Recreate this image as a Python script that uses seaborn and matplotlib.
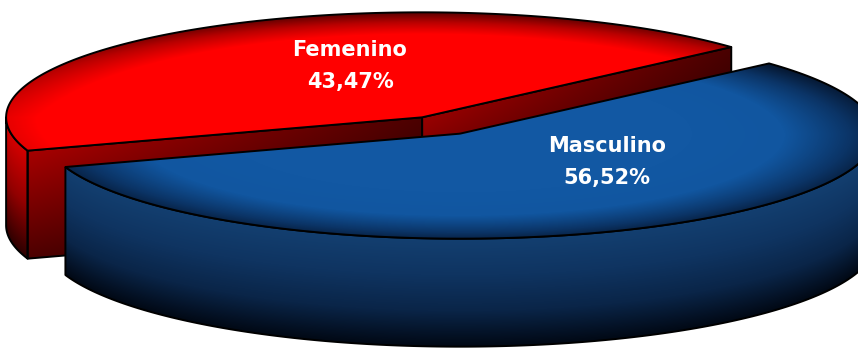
import numpy as np
import matplotlib
matplotlib.use("Agg")
import matplotlib.pyplot as plt
from matplotlib.patches import Polygon
from matplotlib.colors import to_rgb
import seaborn as sns

# ---- data -------------------------------------------------------------
categories = ["Femenino", "Masculino"]
shares = [43.47, 56.52]
share_labels = ["43,47%", "56,52%"]

# ---- layout of the 3-D pie (pixel space) ------------------------------
W, H = 858, 352
CX, CY = 441.0, 125.5      # centre of the un-exploded pie top
RX, RY = 416.0, 105.0      # ellipse radii of the top face
DEPTH = 108.0              # thickness of the disc
EXPLODE = 37.5             # radial offset of each slice
START = 42.0               # angle where the first slice begins (ccw)
LABEL_POS = [(350, 66), (607, 162)]

sns.set_theme(style="white")
plt.rcParams["font.family"] = ["DejaVu Sans"]

fig = plt.figure(figsize=(W / 100, H / 100), dpi=100)
ax = fig.add_axes([0, 0, 1, 1])
ax.set_facecolor("white")

xx, yy = np.meshgrid(np.arange(W) + 0.5, np.arange(H) + 0.5)
K = RY / RX

spans = np.array(shares) / np.sum(shares) * 360.0
starts = START + np.concatenate([[0], np.cumsum(spans)[:-1]])
ends = starts + spans
mids = starts + spans / 2
centers = [(CX + EXPLODE * np.cos(np.radians(m)),
            CY - EXPLODE * K * np.sin(np.radians(m))) for m in mids]


def arc(cx, cy, a, b, dz=0.0, n=240):
    t = np.radians(np.linspace(a, b, n))
    return np.column_stack([cx + RX * np.cos(t), cy - RY * np.sin(t) + dz])


def rim_point(cx, cy, a, dz=0.0):
    t = np.radians(a)
    return np.array([cx + RX * np.cos(t), cy - RY * np.sin(t) + dz])


def paint(poly, rgb, z, lw=1.4):
    clip = Polygon(poly, closed=True, facecolor="none", edgecolor="none",
                   transform=ax.transData)
    ax.add_patch(clip)
    im = ax.imshow(rgb, extent=(0, W, H, 0), zorder=z,
                   interpolation="bilinear", aspect="auto")
    im.set_clip_path(clip)
    ax.add_patch(Polygon(poly, closed=True, fill=False, edgecolor="black",
                         lw=lw, zorder=z + 0.5, joinstyle="round"))


def shade(cmap, v):
    return cmap(np.clip(v, 0, 1))[..., :3]


def top_image(cx, cy, cmap, r0, power, back=0.45):
    # darker towards the rim, strongest along the far (upper) edge
    u = (xx - cx) / RX
    v = (yy - cy) / RY
    r = np.hypot(u, v)
    s = np.clip((r - r0) / (1 - r0), 0, 1) ** power
    w = (1 - back) + back * np.clip(-v / np.maximum(r, 1e-6), 0, 1)
    return shade(cmap, 1 - s * w)


def side_image(cx, cy, cmap):
    u = np.clip((xx - cx) / RX, -1, 1)
    ytop = cy + RY * np.sqrt(1 - u ** 2)
    f = (yy - ytop) / DEPTH
    return shade(cmap, f)


def radial_image(cx, cy, a, c_apex, c_rim, dark=0.55):
    rx, ry = rim_point(cx, cy, a)
    rho = np.clip((xx - cx) / (rx - cx), 0, 1)
    ytop = cy + (xx - cx) * (ry - cy) / (rx - cx)
    f = np.clip((yy - ytop) / DEPTH, 0, 1)
    ca, cr = np.array(to_rgb(c_apex)), np.array(to_rgb(c_rim))
    col = ca[None, None, :] * (1 - rho[..., None]) + cr[None, None, :] * rho[..., None]
    return col * (1 - dark * f[..., None])


red_top = sns.blend_palette(["#5a0000", "#b80000", "#ff0000", "#ff0000"], as_cmap=True)
red_side = sns.blend_palette(["#d40000", "#920000", "#2c0000"], as_cmap=True)
blue_top = sns.blend_palette(["#040d1e", "#0b3466", "#1156a0", "#1258a3"], as_cmap=True)
blue_side = sns.blend_palette(["#133f70", "#0f3461", "#0a2548", "#010814"], as_cmap=True)

# ---- Femenino slice (behind) -----------------------------------------
cx, cy = centers[0]
a0, a1 = starts[0], ends[0]
for a, c_apex, c_rim in [(a0, "#9a0000", "#4a0000"), (a1, "#4c0000", "#a80000")]:
    p_top = rim_point(cx, cy, a)
    poly = np.array([[cx, cy], p_top, p_top + [0, DEPTH], [cx, cy + DEPTH]])
    paint(poly, radial_image(cx, cy, a, c_apex, c_rim), z=2)
if a1 > 180:
    poly = np.vstack([arc(cx, cy, 180, a1), arc(cx, cy, a1, 180, dz=DEPTH)])
    paint(poly, side_image(cx, cy, red_side), z=2)
poly = np.vstack([[cx, cy], arc(cx, cy, a0, a1)])
paint(poly, top_image(cx, cy, red_top, 0.62, 1.4, back=0.55), z=3)

# ---- Masculino slice (front) ------------------------------------------
cx, cy = centers[1]
b0, b1 = starts[1], ends[1]
poly = np.vstack([arc(cx, cy, b0, 360), arc(cx, cy, 360, b0, dz=DEPTH)])
paint(poly, side_image(cx, cy, blue_side), z=5)
poly = np.vstack([[cx, cy], arc(cx, cy, b0, b1)])
paint(poly, top_image(cx, cy, blue_top, 0.55, 1.3, back=0.2), z=6)

# ---- labels -----------------------------------------------------------
for (lx, ly), name, pct in zip(LABEL_POS, categories, share_labels):
    ax.text(lx, ly, f"{name}\n{pct}", ha="center", va="center",
            color="white", fontsize=15, fontweight="bold",
            linespacing=1.8, zorder=20)

ax.set_xlim(0, W)
ax.set_ylim(H, 0)
ax.axis("off")
fig.savefig("out.png", dpi=100, facecolor="white")
